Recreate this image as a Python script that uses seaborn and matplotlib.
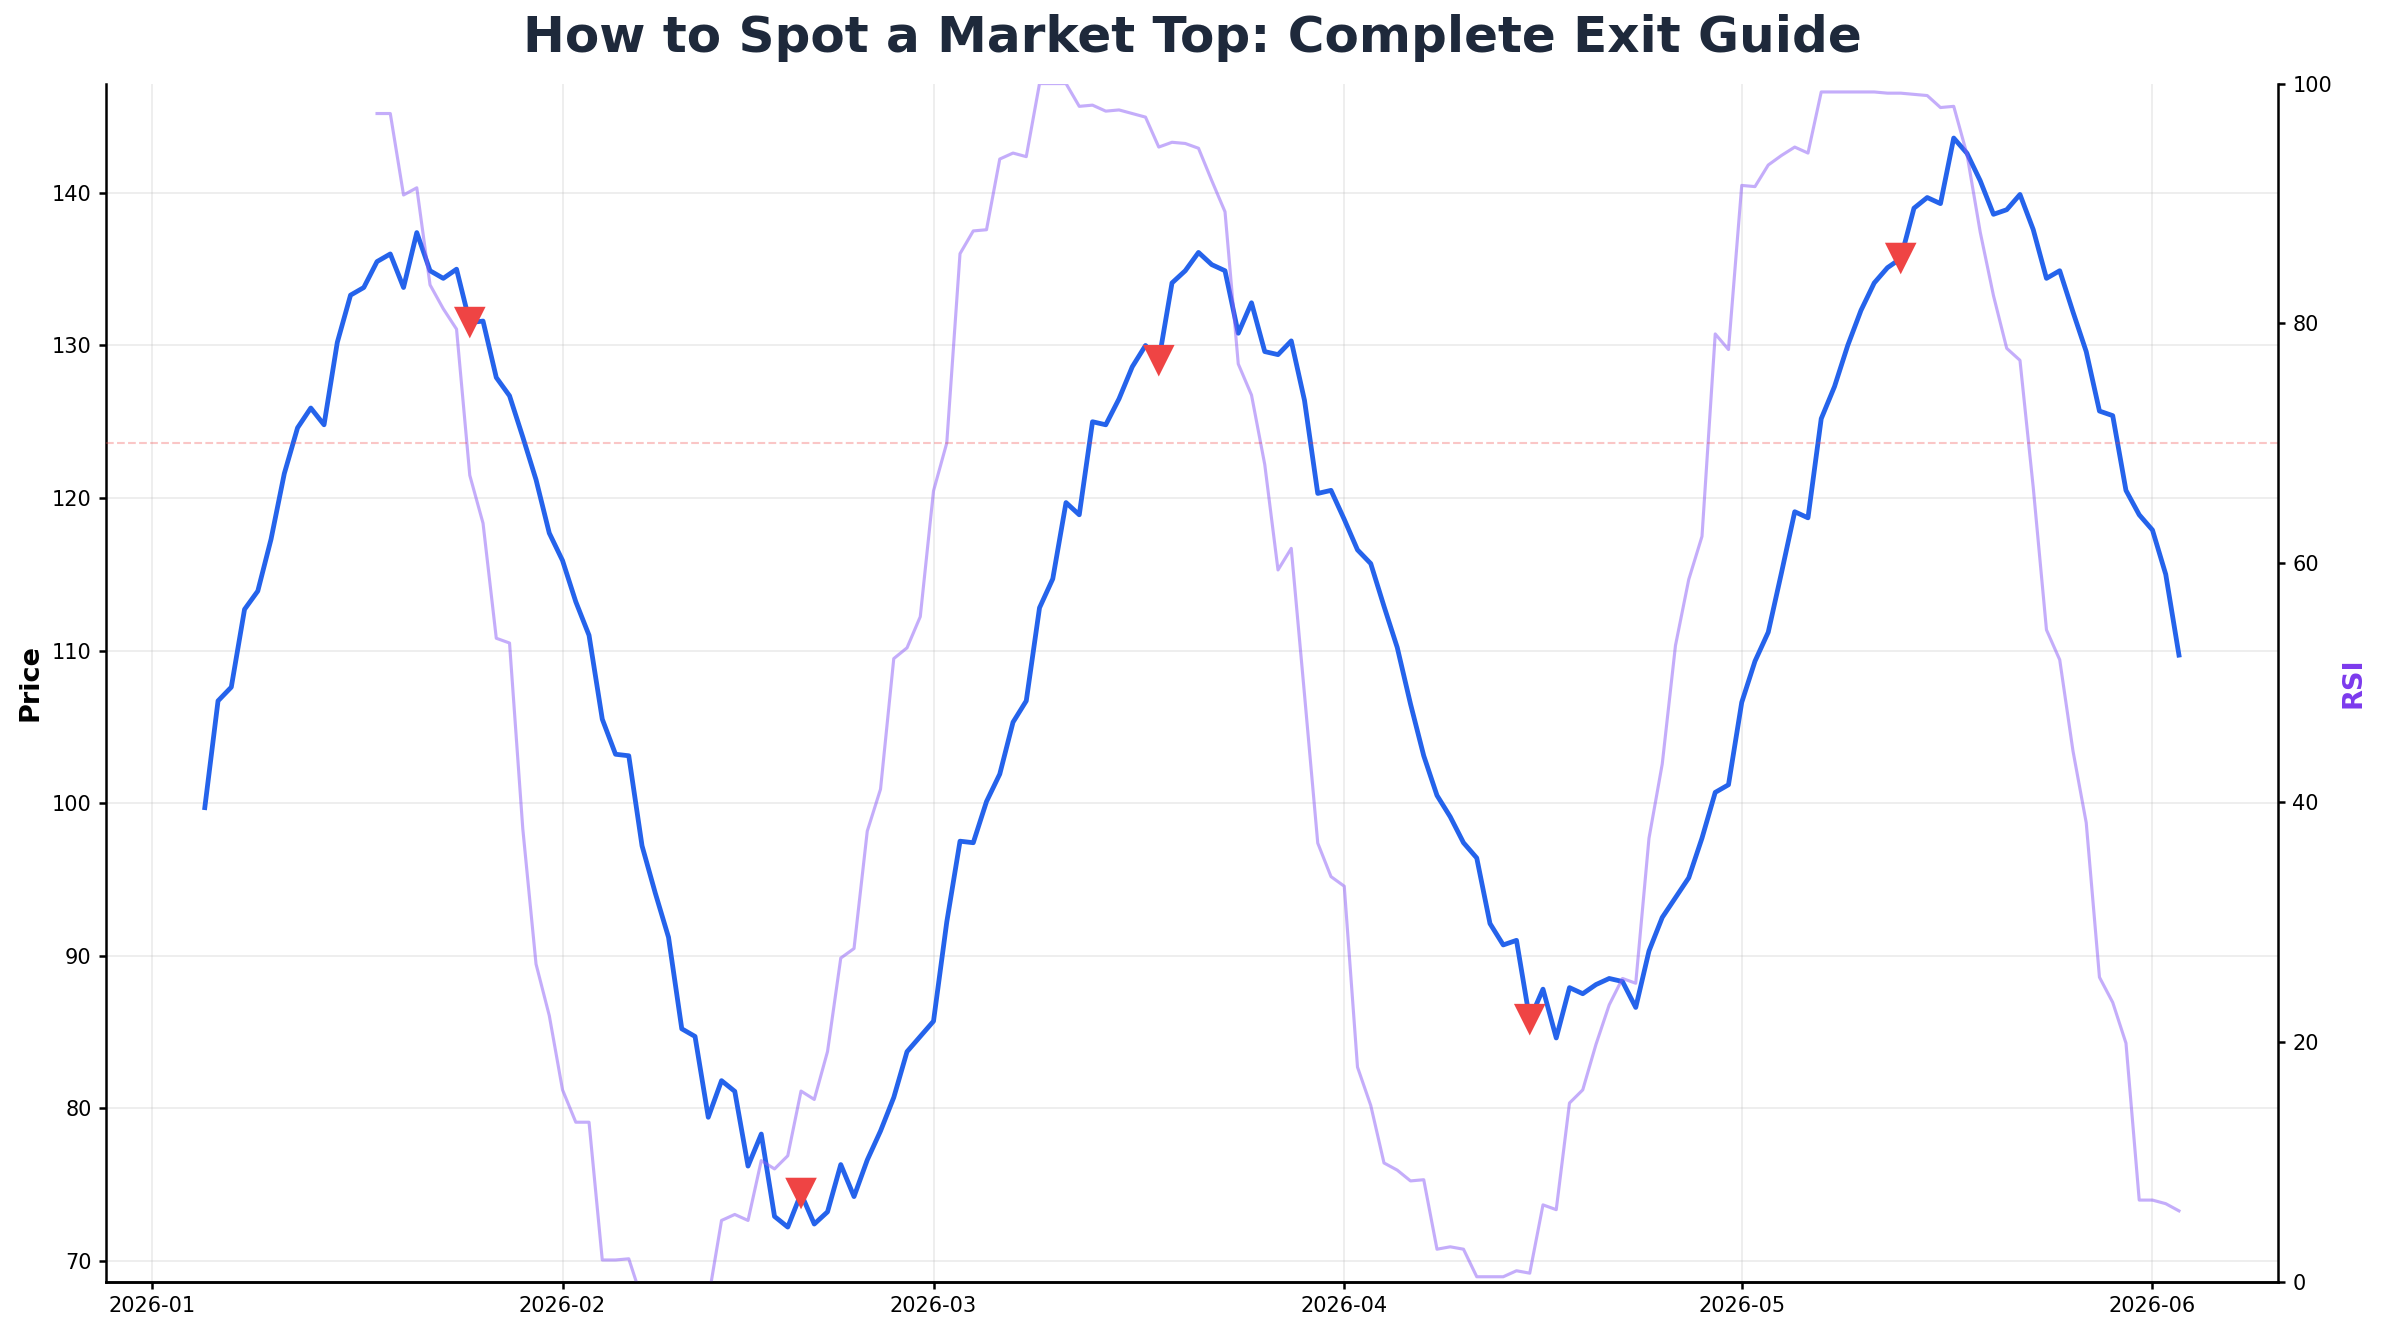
import numpy as np
import pandas as pd
import matplotlib
matplotlib.use("Agg")
import matplotlib.pyplot as plt
import seaborn as sns

# ---------------- data ----------------
start_date = "2026-01-05"

price = [
    99.7, 106.7, 107.6, 112.7, 113.9, 117.3, 121.6, 124.6, 125.9, 124.8,
    130.2, 133.3, 133.8, 135.5, 136.0, 133.8, 137.4, 134.9, 134.4, 135.0,
    131.5, 131.6, 127.9, 126.7, 124.0, 121.2, 117.7, 115.9, 113.2, 111.0,
    105.5, 103.2, 103.1, 97.2, 94.1, 91.2, 85.2, 84.7, 79.4, 81.8,
    81.1, 76.2, 78.3, 72.9, 72.2, 74.4, 72.4, 73.2, 76.3, 74.2,
    76.6, 78.5, 80.7, 83.7, 84.7, 85.7, 92.2, 97.5, 97.4, 100.1,
    101.9, 105.3, 106.7, 112.8, 114.7, 119.7, 118.9, 125.0, 124.8, 126.5,
    128.6, 130.0, 129.0, 134.1, 134.9, 136.1, 135.3, 134.9, 130.8, 132.8,
    129.6, 129.4, 130.3, 126.4, 120.3, 120.5, 118.6, 116.6, 115.7, 112.9,
    110.2, 106.5, 103.1, 100.5, 99.1, 97.4, 96.4, 92.1, 90.7, 91.0,
    85.8, 87.8, 84.6, 87.9, 87.5, 88.1, 88.5, 88.3, 86.6, 90.3,
    92.5, 93.8, 95.1, 97.7, 100.7, 101.2, 106.6, 109.3, 111.2, 115.1,
    119.1, 118.7, 125.2, 127.3, 130.0, 132.3, 134.1, 135.1, 135.7, 139.0,
    139.7, 139.3, 143.6, 142.6, 140.8, 138.6, 138.9, 139.9, 137.6, 134.4,
    134.9, 132.2, 129.6, 125.7, 125.4, 120.5, 118.9, 117.9, 115.0, 109.7,
]

rsi = [np.nan] * 13 + [
    97.5, 97.5, 90.7, 91.3, 83.2, 81.2, 79.5,
    67.3, 63.3, 53.7, 53.3, 37.8, 26.5, 22.2, 16.0, 13.3, 13.3,
    1.8, 1.8, 1.9, -1.5, -1.5, -1.5, -1.5, -1.5, -1.5, 5.1,
    5.6, 5.1, 10.1, 9.4, 10.5, 15.9, 15.2, 19.2, 27.0, 27.8,
    37.6, 41.1, 52.0, 52.9, 55.5, 66.0, 70.0, 85.8, 87.7, 87.8,
    93.7, 94.2, 93.9, 100.0, 100.0, 100.0, 98.1, 98.2, 97.7, 97.8,
    97.5, 97.2, 94.7, 95.1, 95.0, 94.6, 91.9, 89.3, 76.6, 74.0,
    68.2, 59.4, 61.2, 49.0, 36.6, 33.8, 33.0, 17.9, 14.7, 9.9,
    9.3, 8.4, 8.5, 2.7, 2.9, 2.7, 0.4, 0.4, 0.4, 0.9,
    0.7, 6.4, 6.0, 14.9, 16.0, 19.8, 23.1, 25.3, 24.9, 37.0,
    43.2, 53.1, 58.6, 62.2, 79.1, 77.8, 91.5, 91.4, 93.2, 94.0,
    94.7, 94.2, 99.3, 99.3, 99.3, 99.3, 99.3, 99.2, 99.2, 99.1,
    99.0, 98.0, 98.1, 94.1, 87.6, 82.3, 77.9, 76.9, 66.3, 54.4,
    51.9, 44.3, 38.3, 25.4, 23.3, 19.9, 6.8, 6.8, 6.5, 5.9,
]

signal_idx = [20, 45, 72, 100, 128]
rsi_overbought = 70

title = "How to Spot a Market Top: Complete Exit Guide"

# ---------------- build frame ----------------
dates = pd.date_range(start_date, periods=len(price), freq="D")
df = pd.DataFrame({"date": dates, "price": price, "rsi": rsi})
sig = df.iloc[signal_idx]

plt.rcParams["font.family"] = ["DejaVu Sans"]
plt.rcParams["axes.linewidth"] = 1.2
plt.rcParams["xtick.major.width"] = 1.2
plt.rcParams["ytick.major.width"] = 1.2

fig = plt.figure(figsize=(2384 / 150, 1333 / 150), dpi=150)
ax = fig.add_axes([0.0445, 0.0386, 0.9109, 0.8987])
ax2 = ax.twinx()

sns.lineplot(data=df, x="date", y="price", ax=ax, color="#2563EB", linewidth=2.3)
sns.scatterplot(data=sig, x="date", y="price", ax=ax, marker="v", color="#EF4444",
                s=230, edgecolor="none", zorder=5)

sns.lineplot(data=df, x="date", y="rsi", ax=ax2, color="#8B5CF6", alpha=0.5, linewidth=1.5)
ax2.axhline(rsi_overbought, color="#EF4444", alpha=0.3, linestyle="--", linewidth=1)
ax2.set_ylim(0, 100)

ax.grid(True, color="#b0b0b0", alpha=0.25, linewidth=0.8)
ax.set_axisbelow(True)

ax.spines["top"].set_visible(False)
ax.spines["right"].set_visible(False)
ax2.spines["top"].set_visible(False)
ax2.spines["left"].set_visible(False)

ax.set_xlabel("")
ax.set_ylabel("Price", fontsize=13, fontweight="bold")
ax2.set_ylabel("RSI", fontsize=13, fontweight="bold", color="#7C3AED")
ax.tick_params(labelsize=10)
ax2.tick_params(labelsize=10)

ax.set_title(title, fontsize=24, fontweight="bold", color="#1E293B", pad=15)

fig.savefig("out.png", dpi=150)
